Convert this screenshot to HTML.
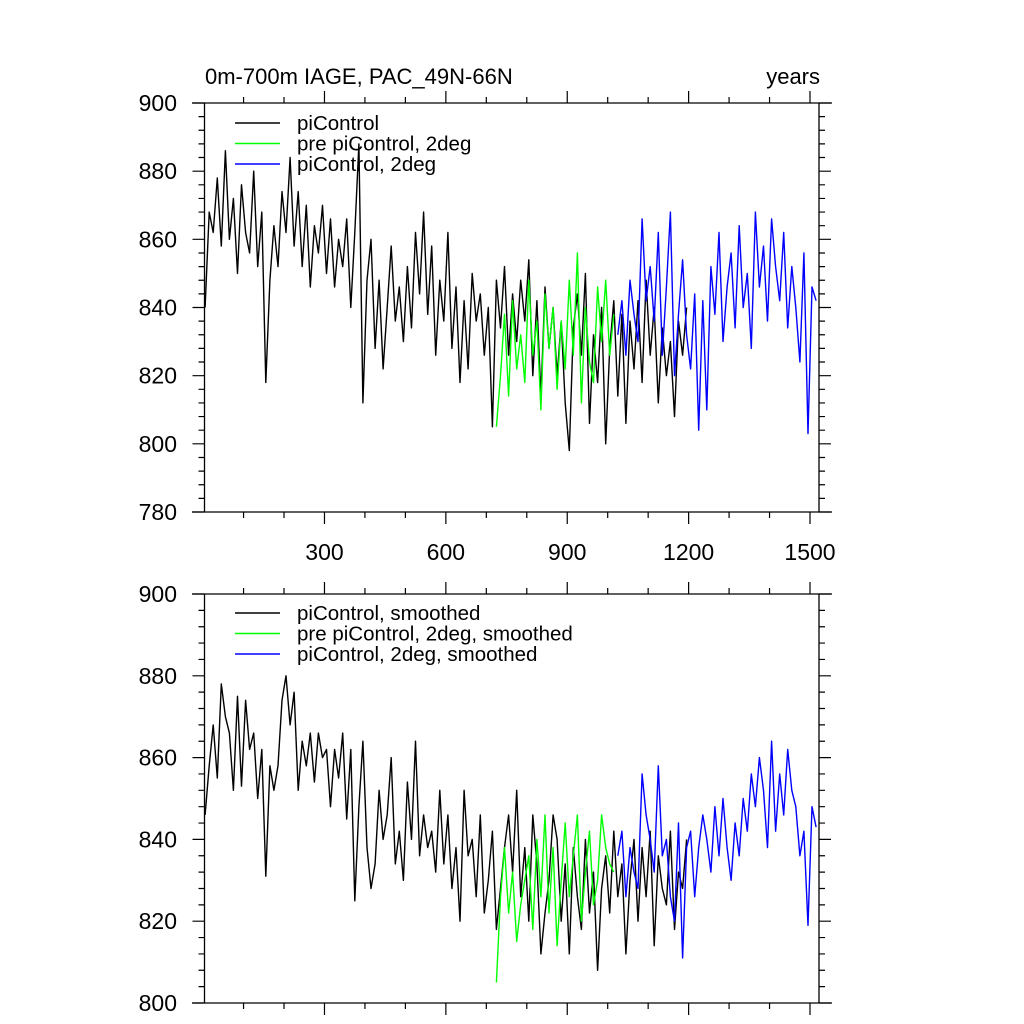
<!DOCTYPE html>
<html><head><meta charset="utf-8"><style>
body{margin:0;background:#fff}
svg{display:block;font-family:"Liberation Sans",sans-serif}
</style></head><body>
<svg id="chart" width="1024" height="1024" viewBox="0 0 1024 1024">
<text x="205" y="84" font-size="22">0m-700m IAGE, PAC_49N-66N</text>
<text x="820" y="84" font-size="22" text-anchor="end">years</text>
<g id="top"></g>
<g id="bot"></g>
</svg>
<script>
const xTicks = [300, 600, 900, 1200, 1500];
const topYTicks = [780, 800, 820, 840, 860, 880, 900];
const botYTicks = [800, 820, 840, 860, 880, 900];
const blackStart = 5, greenStart = 725, blueStart = 1025, step = 10;
const blackRaw = [840,868,862,878,858,886,860,872,850,876,862,856,880,852,868,818,848,864,852,874,862,884,858,874,852,870,846,864,856,870,850,866,846,860,852,866,840,862,888,812,848,860,828,848,822,840,858,836,846,830,852,834,862,844,868,838,858,826,848,836,862,828,846,818,842,822,850,836,844,826,840,805,848,834,852,826,844,830,848,836,854,820,842,814,846,828,840,820,836,812,798,834,844,826,850,806,832,818,840,800,828,842,814,838,806,836,822,842,818,848,826,840,812,834,820,830,808,836,826,840];
const greenRaw = [805,820,838,814,842,822,832,818,848,826,836,810,844,828,840,816,836,822,848,826,856,812,840,824,818,846,830,848,826,838];
const blueRaw = [832,842,826,848,838,830,866,842,852,836,862,826,846,868,820,838,854,832,822,844,804,842,810,852,838,862,830,846,856,834,864,840,850,828,868,846,858,836,866,852,842,862,834,852,840,824,856,803,846,842];
const blackSmooth = [846,858,868,855,878,870,866,852,875,853,874,862,866,850,862,831,858,852,858,874,880,868,876,852,864,858,866,854,866,860,862,848,862,855,866,845,862,825,848,864,838,828,834,852,840,846,860,834,842,830,854,840,864,836,846,838,842,832,852,834,846,828,838,820,852,836,840,826,846,822,830,842,818,828,838,846,832,852,826,838,820,846,834,812,822,830,846,840,820,834,812,838,826,818,840,822,832,808,828,836,822,842,826,834,812,830,840,820,838,826,842,814,836,828,824,842,818,832,828,840];
const greenSmooth = [805,826,838,822,832,815,824,830,836,818,840,826,846,822,838,814,830,844,826,836,846,820,832,842,824,830,846,838,834,832];
const blueSmooth = [836,842,826,838,832,828,856,846,840,832,858,836,840,826,820,844,811,838,842,826,838,846,840,832,848,836,850,838,830,844,836,850,842,856,848,860,852,838,864,842,856,846,862,852,848,836,842,819,848,843];

const NS = "http://www.w3.org/2000/svg";
const L = 204.5, R = 819;
const xs = yr => 203.1 + yr * 0.4046;
function mk(parent, tag, attrs) {
  const e = document.createElementNS(NS, tag);
  for (const k in attrs) e.setAttribute(k, attrs[k]);
  parent.appendChild(e);
  return e;
}
function panel(g, top, bottom, ymin, ymax, yTicks, showXLabels, series, legend, legY) {
  const ys = v => bottom - (v - ymin) / (ymax - ymin) * (bottom - top);
  const ax = mk(g, 'path', {d:`M192 ${top}H832M192 ${bottom}H832M${L} ${top}V${bottom}M${R} ${top}V${bottom}`, stroke:'#000', 'stroke-width':1.3, fill:'none'});
  
  
  let d = '';
  for (let yr = 100; yr <= 1500; yr += 100) {
    const x = xs(yr);
    const len = (yr % 300 === 0) ? 12 : 6;
    d += `M${x} ${bottom}v${len}M${x} ${top}v${-len}`;
  }
  for (let v = ymin; v <= ymax + 0.01; v += 4) {
    const y = ys(v);
    const len = ((v - ymin) % 20 === 0) ? 12 : 6;
    d += `M${L} ${y}h${-len}M${R} ${y}h${len}`;
  }
  const tk = mk(g, 'path', {d:d, stroke:'#000', 'stroke-width':1.2, fill:'none'});
  
  
  yTicks.forEach(v => {
    const t = mk(g, 'text', {x:177, y:ys(v) + 8, 'font-size':23, 'text-anchor':'end'});
    t.textContent = v;
    
    
  });
  if (showXLabels) xTicks.forEach(v => {
    const t = mk(g, 'text', {x:xs(v), y:bottom + 48, 'font-size':23, 'text-anchor':'middle'});
    t.textContent = v;
    
    
  });
  series.forEach(s => {
    const pts = s.vals.map((v, i) => xs(s.start + i * step).toFixed(1) + ',' + ys(v).toFixed(1)).join(' ');
    const p = mk(g, 'polyline', {points:pts, fill:'none', stroke:s.color, 'stroke-width':1.4, 'stroke-linejoin':'round'});
    
    
  });
  legend.forEach((lg, i) => {
    const y = legY + i * 20.5;
    const ln = mk(g, 'line', {x1:235, x2:280, y1:y, y2:y, stroke:lg.color, 'stroke-width':1.6});
    
    
    const t = mk(g, 'text', {x:297, y:y + 7, 'font-size':20.5});
    t.textContent = lg.label;
    
    
  });
}
panel(document.getElementById('top'), 103, 512, 780, 900, topYTicks, true,
  [{vals:blackRaw, start:blackStart, color:'#000', name:'picontrol-line'},
   {vals:greenRaw, start:greenStart, color:'#00ff00', name:'pre-picontrol-2deg-line'},
   {vals:blueRaw, start:blueStart, color:'#0000ff', name:'picontrol-2deg-line'}],
  [{color:'#000', label:'piControl'}, {color:'#00ff00', label:'pre piControl, 2deg'}, {color:'#0000ff', label:'piControl, 2deg'}], 123);
panel(document.getElementById('bot'), 594, 1003, 800, 900, botYTicks, false,
  [{vals:blackSmooth, start:blackStart, color:'#000', name:'picontrol-smoothed-line'},
   {vals:greenSmooth, start:greenStart, color:'#00ff00', name:'pre-picontrol-2deg-smoothed-line'},
   {vals:blueSmooth, start:blueStart, color:'#0000ff', name:'picontrol-2deg-smoothed-line'}],
  [{color:'#000', label:'piControl, smoothed'}, {color:'#00ff00', label:'pre piControl, 2deg, smoothed'}, {color:'#0000ff', label:'piControl, 2deg, smoothed'}], 613);
</script>
</body></html>
